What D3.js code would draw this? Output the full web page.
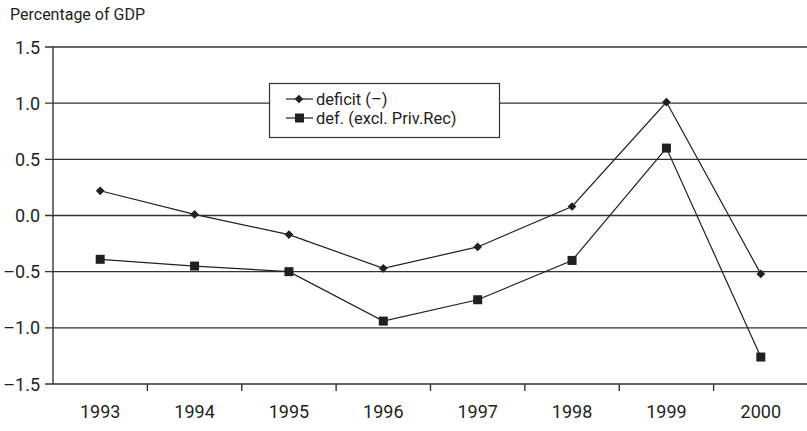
<!DOCTYPE html>
<html>
<head>
<meta charset="utf-8">
<script src="https://cdn.jsdelivr.net/npm/d3@7"></script>
<style>
  body { margin: 0; background: #fff; }
  text { font-family: Roboto, "Liberation Sans", sans-serif; fill: #231f20; }
</style>
</head>
<body>
<div id="chart"></div>
<script>
document.addEventListener('DOMContentLoaded', function () {
    const width = 807;
    const height = 431;

    // Data
    const years = ['1993', '1994', '1995', '1996', '1997', '1998', '1999', '2000'];
    const deficit = [0.22, 0.01, -0.17, -0.47, -0.28, 0.08, 1.01, -0.52];
    const deficitExcl = [-0.39, -0.45, -0.50, -0.94, -0.75, -0.40, 0.60, -1.26];
    const yTicks = [1.5, 1.0, 0.5, 0.0, -0.5, -1.0, -1.5];

    const margin = { top: 47, right: 0, bottom: 47, left: 53 };

    const svg = d3.select('#chart')
        .append('svg')
        .attr('width', width)
        .attr('height', height);

    const x = d3.scaleBand()
        .domain(years)
        .range([margin.left, width + 1]);

    const y = d3.scaleLinear()
        .domain([-1.5, 1.5])
        .range([height - margin.bottom, margin.top]);

    const fmt = d => (d < 0 ? '\u2013' : '') + Math.abs(d).toFixed(1);

    // Title
    svg.append('text')
        .attr('x', 10)
        .attr('y', 20)
        .attr('font-size', '16px')
        .text('Percentage of GDP');

    // Gridlines
    svg.selectAll('.grid')
        .data(yTicks)
        .enter()
        .append('line')
        .attr('x1', margin.left - 8)
        .attr('x2', width)
        .attr('y1', d => y(d))
        .attr('y2', d => y(d))
        .attr('stroke', '#333')
        .attr('stroke-width', 1.4);

    // Y labels
    svg.selectAll('.ylab')
        .data(yTicks)
        .enter()
        .append('text')
        .attr('x', margin.left - 13)
        .attr('y', d => y(d) + 6.5)
        .attr('text-anchor', 'end')
        .attr('font-size', '18px')
        .text(fmt);

    // Y axis line
    svg.append('line')
        .attr('x1', margin.left)
        .attr('x2', margin.left)
        .attr('y1', y(1.5))
        .attr('y2', y(-1.5))
        .attr('stroke', '#333')
        .attr('stroke-width', 1.4);

    // X ticks between categories
    svg.selectAll('.xtick')
        .data(years.slice(1))
        .enter()
        .append('line')
        .attr('x1', d => x(d))
        .attr('x2', d => x(d))
        .attr('y1', y(-1.5))
        .attr('y2', y(-1.5) + 7)
        .attr('stroke', '#333')
        .attr('stroke-width', 1.4);

    // X labels
    svg.selectAll('.xlab')
        .data(years)
        .enter()
        .append('text')
        .attr('x', d => x(d) + x.bandwidth() / 2)
        .attr('y', 418)
        .attr('text-anchor', 'middle')
        .attr('font-size', '18px')
        .text(d => d);

    const line = d3.line()
        .x((d, i) => x(years[i]) + x.bandwidth() / 2)
        .y(d => y(d));

    // Series lines
    [deficit, deficitExcl].forEach(s => {
        svg.append('path')
            .datum(s)
            .attr('d', line)
            .attr('fill', 'none')
            .attr('stroke', '#231f20')
            .attr('stroke-width', 1.2);
    });

    const diamond = d3.symbol().type(d3.symbolSquare).size(38);

    // Diamond markers
    svg.selectAll('.dm')
        .data(deficit)
        .enter()
        .append('path')
        .attr('d', diamond)
        .attr('transform', (d, i) => `translate(${x(years[i]) + x.bandwidth() / 2},${y(d)}) rotate(45)`)
        .attr('fill', '#231f20');

    // Square markers
    svg.selectAll('.sq')
        .data(deficitExcl)
        .enter()
        .append('rect')
        .attr('x', (d, i) => x(years[i]) + x.bandwidth() / 2 - 4.5)
        .attr('y', d => y(d) - 4.5)
        .attr('width', 9)
        .attr('height', 9)
        .attr('fill', '#231f20');

    // Legend
    const lg = svg.append('g');
    lg.append('rect')
        .attr('x', 269.5)
        .attr('y', 83.5)
        .attr('width', 230)
        .attr('height', 54)
        .attr('fill', '#fff')
        .attr('stroke', '#333')
        .attr('stroke-width', 1.2);

    const legendItems = ['deficit (\u2013)', 'def. (excl. Priv.Rec)'];
    legendItems.forEach((name, i) => {
        const ly = 99 + i * 19;
        lg.append('line')
            .attr('x1', 286).attr('x2', 313)
            .attr('y1', ly).attr('y2', ly)
            .attr('stroke', '#231f20')
            .attr('stroke-width', 1.2);
        if (i === 0) {
            lg.append('path')
                .attr('d', diamond)
                .attr('transform', `translate(299,${ly}) rotate(45)`)
                .attr('fill', '#231f20');
        } else {
            lg.append('rect')
                .attr('x', 295).attr('y', ly - 4.5)
                .attr('width', 9).attr('height', 9)
                .attr('fill', '#231f20');
        }
        lg.append('text')
            .attr('x', 316)
            .attr('y', ly + 6)
            .attr('font-size', '16.5px')
            .text(name);
    });
});
</script>
</body>
</html>
